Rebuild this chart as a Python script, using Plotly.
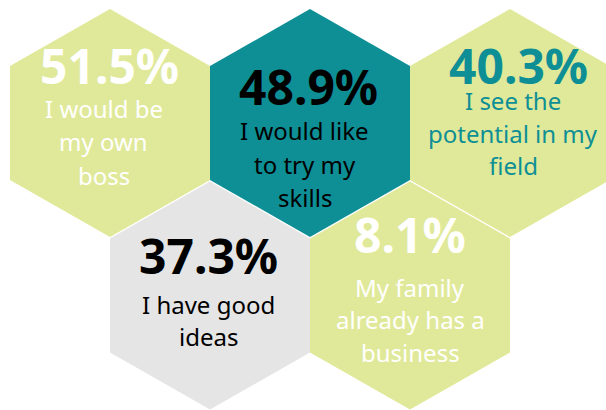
import plotly.graph_objects as go

# ---- data ----
percent_values = [51.5, 48.9, 40.3, 37.3, 8.1]
reason_labels = [
    ["I would be", "my own", "boss"],
    ["I would like", "to try my", "skills"],
    ["I see the", "potential in my", "field"],
    ["I have good", "ideas"],
    ["My family", "already has a", "business"],
]

# ---- styles ----
GREEN = "#E0E999"
TEAL = "#0E8F96"
GREY = "#E5E5E5"
fill_colors = [GREEN, TEAL, GREEN, GREY, GREEN]
text_colors = ["#FFFFFF", "#000000", TEAL, "#000000", "#FFFFFF"]

# ---- layout (pixel coordinates in a 606x410 canvas) ----
W, H = 606, 410
HALF_W, SIDE = 100, 114
hex_centers = [(110, 123), (310, 123), (510, 123), (210, 295.5), (410, 295.5)]
pct_pos = [(109, 65.5), (308, 86.5), (518, 65.5), (208.5, 255.5), (410, 234.5)]
label_x = [103.5, 304.5, 513, 208, 410]
label_y0 = [108, 130.5, 100.5, 304.5, 287]
label_step = [33.5, 33.5, 32.5, 31.5, 32.5]
PCT_SIZE, LABEL_SIZE = 48, 24
FONT = "Noto Sans"

fig = go.Figure()
for (cx, cy), col in zip(hex_centers, fill_colors):
    xs = [cx, cx + HALF_W, cx + HALF_W, cx, cx - HALF_W, cx - HALF_W, cx]
    ys = [cy - SIDE, cy - SIDE / 2, cy + SIDE / 2, cy + SIDE, cy + SIDE / 2, cy - SIDE / 2, cy - SIDE]
    fig.add_trace(go.Scatter(x=xs, y=ys, mode="lines", fill="toself", fillcolor=col,
                             line=dict(width=0, color=col), hoverinfo="skip", showlegend=False))

annotations = []
for i, val in enumerate(percent_values):
    px, py = pct_pos[i]
    annotations.append(dict(x=px, y=py, xref="x", yref="y", text=f"<b>{val:.1f}%</b>",
                            showarrow=False, xanchor="center", yanchor="middle",
                            font=dict(family=FONT, size=PCT_SIZE, color=text_colors[i])))
    for j, line in enumerate(reason_labels[i]):
        annotations.append(dict(x=label_x[i], y=label_y0[i] + j * label_step[i], xref="x", yref="y",
                                text=line, showarrow=False, xanchor="center", yanchor="middle",
                                font=dict(family=FONT, size=LABEL_SIZE, color=text_colors[i])))

fig.update_layout(
    width=W, height=H, margin=dict(l=0, r=0, t=0, b=0),
    paper_bgcolor="white", plot_bgcolor="white",
    xaxis=dict(range=[0, W], visible=False, fixedrange=True),
    yaxis=dict(range=[H, 0], visible=False, fixedrange=True),
    annotations=annotations, showlegend=False,
)
fig.write_html("out.html", config={"displayModeBar": False},
               post_script="document.body.style.margin='0';document.body.style.overflow='hidden';")
